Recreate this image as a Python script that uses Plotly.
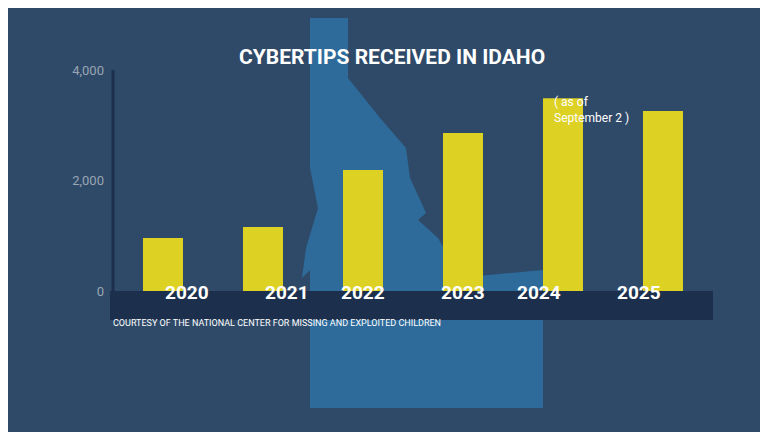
import plotly.graph_objects as go

years = ['2020', '2021', '2022', '2023', '2024', '2025']
tips = [960, 1160, 2190, 2860, 3490, 3260]
y_ticks = [0, 2000, 4000]
y_tick_labels = ['0', '2,000', '4,000']

BG = '#2f4a69'
STATE = '#2e6b9b'
BAR = '#ddd123'
BAND = '#1c2f4c'

L, R, T, B = 105, 705, 62, 283


def px(x, y):
    # pixel -> paper coords
    return (x - L) / (R - L), (B - y) / (B - T)


idaho_px = [(302, 10), (340, 10), (340, 70), (352, 85), (372, 110), (398, 140),
            (402, 170), (418, 205), (410, 212), (430, 230), (448, 262),
            (470, 268), (535, 262), (535, 400), (302, 400), (302, 262),
            (294, 270), (298, 240), (310, 200), (302, 160), (302, 10)]
path = 'M ' + ' L '.join(f'{a:.4f},{b:.4f}' for a, b in (px(x, y) for x, y in idaho_px)) + ' Z'

fig = go.Figure(go.Bar(x=years, y=tips, marker=dict(color=BAR, line=dict(width=0)), width=0.4))

fig.add_shape(type='path', path=path, xref='paper', yref='paper',
              fillcolor=STATE, line=dict(width=0), layer='below')
x0, y0 = px(102, 283)
x1, y1 = px(705, 312)
fig.add_shape(type='rect', x0=x0, x1=x1, y0=y1, y1=y0, xref='paper', yref='paper',
              fillcolor=BAND, line=dict(width=0), layer='below')
fig.add_shape(type='line', x0=0, x1=0, y0=0, y1=1, xref='paper', yref='paper',
              line=dict(color=BAND, width=3))

for i, yr in enumerate(years):
    fig.add_annotation(x=(i + 0.5) / len(years), xref='paper', y=(y1 + y0) / 2, yref='paper',
                       text=f'<b>{yr}</b>', showarrow=False,
                       font=dict(size=19, color='white', family='Roboto'))

fig.add_annotation(x=px(384, 0)[0], y=px(0, 35)[1], xref='paper', yref='paper',
                   text='<b>CYBERTIPS RECEIVED IN IDAHO</b>',
                   showarrow=False, font=dict(size=21, color='white', family='Roboto'))
fig.add_annotation(x=px(103, 0)[0], y=px(0, 322)[1], xref='paper', yref='paper', xanchor='left',
                   text='COURTESY OF THE NATIONAL CENTER FOR MISSING AND EXPLOITED CHILDREN',
                   showarrow=False, font=dict(size=9, color='white', family='Roboto'))
fig.add_annotation(x=px(623, 0)[0], y=px(0, 85)[1], xref='paper', yref='paper',
                   text='( as of<br>September 2 )', showarrow=False,
                   font=dict(size=12, color='white', family='Roboto'), align='left')

fig.update_layout(
    width=768, height=432, paper_bgcolor=BG, plot_bgcolor='rgba(0,0,0,0)',
    margin=dict(l=L, r=768 - R, t=T, b=432 - B), showlegend=False,
    xaxis=dict(type='category', showticklabels=False, showgrid=False, zeroline=False,
               range=[-0.5, 5.5]),
    yaxis=dict(range=[0, 4000], tickvals=y_ticks, ticktext=y_tick_labels, showgrid=False,
               zeroline=False, tickfont=dict(size=13, color='#9aa5b3', family='Roboto'),
               ticks='', ticklabelstandoff=8),
)
fig.write_html('out.html')
